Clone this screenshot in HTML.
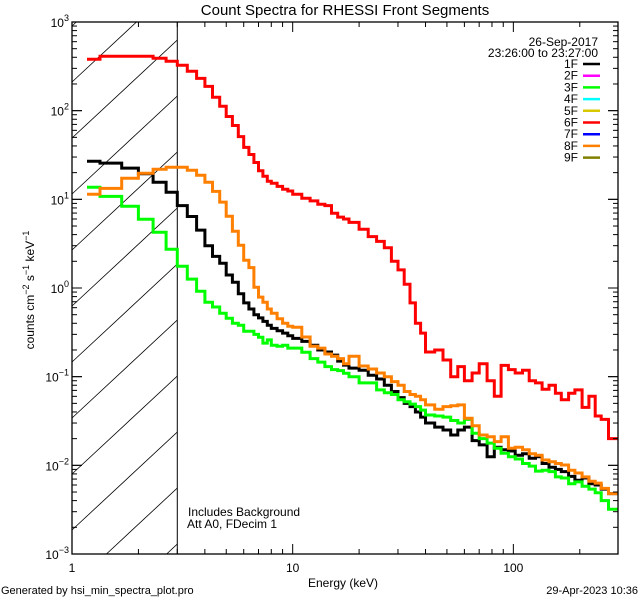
<!DOCTYPE html>
<html><head><meta charset="utf-8"><style>
html,body{margin:0;padding:0;background:#fff;width:640px;height:600px;overflow:hidden}
svg{display:block;overflow:hidden}
text{font-family:"Liberation Sans",sans-serif;fill:#000}
</style></head><body>
<svg id="chart" width="640" height="600" viewBox="0 0 640 600" xmlns="http://www.w3.org/2000/svg">
<rect width="640" height="600" fill="#fff"/>
<defs><clipPath id="clipHatch"><rect x="72" y="22" width="105.3" height="532"/></clipPath>
<clipPath id="clipPlot"><rect x="72" y="22" width="546" height="532"/></clipPath></defs>
<text x="345" y="15" font-size="15" text-anchor="middle">Count Spectra for RHESSI Front Segments</text>
<g clip-path="url(#clipHatch)"><g id="hatch"></g></g>
<g id="vline"></g>
<g clip-path="url(#clipPlot)"><g id="series"></g></g>
<g id="axes"></g>
<text x="188" y="516" font-size="12">Includes Background</text>
<text x="187" y="528" font-size="12">Att A0, FDecim 1</text>
<text x="343" y="587" font-size="12" text-anchor="middle">Energy (keV)</text>
<text transform="translate(34,290) rotate(-90)" font-size="12" text-anchor="middle">counts cm<tspan font-size="9" dy="-5">−2</tspan><tspan dy="5"> s</tspan><tspan font-size="9" dy="-5">−1</tspan><tspan dy="5"> keV</tspan><tspan font-size="9" dy="-5">−1</tspan></text>
<text x="1" y="594" font-size="11">Generated by hsi_min_spectra_plot.pro</text>
<text x="638" y="594" font-size="11" text-anchor="end">29-Apr-2023 10:36</text>
<text x="598" y="46" font-size="12" text-anchor="end">26-Sep-2017</text>
<text x="598" y="57" font-size="12" text-anchor="end">23:26:00 to 23:27:00</text>
<g id="legend"></g>
</svg>
<script>
const edges=[1.17,1.34,1.68,2.0,2.33,2.67,3.0,3.33,3.67,4.0,4.33,4.67,5.0,5.33,5.67,6.0,6.33,6.67,7.0,7.33,7.67,8.0,8.5,9.0,9.5,10,11,12,13,14,15,16,17,18,20,22,24,26,28,30,32,34,36,38,40,44,48,52,56,60,65,70,76,82,88,95,102,110,118,126,135,145,155,165,178,190,205,220,235,250,270,298];
const seg1F=[26.9,25.6,22.5,19.4,15.6,12.0,8.5,6.4,4.5,3.0,2.27,1.9,1.4,1.16,0.86,0.68,0.58,0.50,0.46,0.42,0.38,0.35,0.33,0.31,0.29,0.27,0.25,0.226,0.2,0.19,0.175,0.15,0.135,0.125,0.118,0.104,0.094,0.08,0.068,0.058,0.05,0.046,0.040,0.035,0.030,0.027,0.025,0.022,0.025,0.027,0.019,0.017,0.0125,0.016,0.015,0.0145,0.013,0.0135,0.012,0.0125,0.0105,0.0095,0.009,0.0085,0.0075,0.0068,0.0072,0.0062,0.006,0.0054,0.0048];
const seg3F=[13.7,10.8,8.36,5.97,4.26,2.74,1.76,1.26,0.92,0.69,0.61,0.52,0.457,0.40,0.38,0.326,0.326,0.30,0.279,0.239,0.26,0.226,0.22,0.226,0.21,0.21,0.189,0.16,0.146,0.13,0.12,0.117,0.109,0.10,0.085,0.085,0.071,0.066,0.063,0.055,0.052,0.049,0.046,0.042,0.037,0.036,0.035,0.032,0.030,0.033,0.023,0.02,0.0178,0.0156,0.0137,0.0125,0.0118,0.0105,0.0098,0.0086,0.0088,0.0085,0.0074,0.0072,0.0062,0.0065,0.0058,0.0054,0.0049,0.0040,0.0032];
const seg8F=[11.4,13.3,17.3,19.7,21.8,23.0,23.0,21.3,18.7,15.6,12.3,9.3,6.45,4.37,3.04,2.06,1.7,1.02,0.79,0.69,0.58,0.52,0.45,0.40,0.37,0.36,0.28,0.22,0.21,0.18,0.17,0.16,0.14,0.17,0.132,0.122,0.11,0.10,0.088,0.08,0.068,0.063,0.06,0.055,0.048,0.043,0.046,0.047,0.048,0.034,0.028,0.022,0.021,0.0185,0.021,0.0156,0.016,0.015,0.0135,0.013,0.0115,0.011,0.0105,0.0101,0.0088,0.0082,0.0074,0.0066,0.0063,0.0055,0.0048];
const seg6F=[380,410,410,410,390,360,325,278,231,188,142,112,86,68,51,38.5,32,26,21,18.2,16,15.2,14,13,12.4,11.4,10.3,9.6,8.8,8.5,6.95,6.3,6.0,5.5,4.6,3.8,3.35,2.85,2.0,1.6,1.1,0.68,0.40,0.31,0.19,0.20,0.154,0.10,0.13,0.09,0.11,0.14,0.09,0.06,0.134,0.12,0.11,0.118,0.09,0.085,0.072,0.08,0.065,0.055,0.065,0.071,0.045,0.06,0.036,0.033,0.02];
const legendLabels=["1F","2F","3F","4F","5F","6F","7F","8F","9F"];
const legendColors=["#000000","#ff00ff","#00ff00","#00ffff","#d8c800","#ff0000","#0000ff","#ff8000","#808000"];
const xTickVals=[1,10,100];
const xTickLabels=["1","10","100"];
const yTickExps=[3,2,1,0,-1,-2,-3];

const NS="http://www.w3.org/2000/svg";
const L=72,R=618,T=22,B=554;
const xMin=1,xMax=298,yMin=1e-3,yMax=1e3;
function xs(e){return L+(R-L)*(Math.log10(e)-Math.log10(xMin))/(Math.log10(xMax)-Math.log10(xMin));}
function ys(v){return B-(B-T)*(Math.log10(v)-Math.log10(yMin))/(Math.log10(yMax)-Math.log10(yMin));}
function mk(tag,attrs,parent){const el=document.createElementNS(NS,tag);for(const k in attrs)el.setAttribute(k,attrs[k]);parent.appendChild(el);return el;}

const hatch=document.getElementById('hatch');
const hx0=72,hx1=xs(3),slope=0.93;
for(let b=-86;b<800;b+=56){
  let xa=hx0,ya=b,xb=hx1,yb=b-(hx1-hx0)*slope;
  if(ya>B){xa=hx0+(ya-B)/slope;ya=B;}
  if(yb<T){xb=hx0+(b-T)/slope;yb=T;}
  if(xa>=xb)continue;
  const ln=mk('line',{x1:xa,y1:ya,x2:xb,y2:yb,stroke:'#000','stroke-width':0.8},hatch);
  
  
}
const vl=mk('line',{x1:xs(3),y1:T,x2:xs(3),y2:B,stroke:'#000','stroke-width':1},document.getElementById('vline'));



const sg=document.getElementById('series');
function drawSeries(vals,color,name){
  let d='';
  for(let i=0;i<vals.length;i++){
    const x0=xs(edges[i]),x1=xs(edges[i+1]),y=ys(vals[i]);
    d+=(i===0?'M':'L')+x0.toFixed(1)+','+y.toFixed(1)+'L'+x1.toFixed(1)+','+y.toFixed(1);
  }
  const p=mk('path',{d:d,fill:'none',stroke:color,'stroke-width':3,'stroke-linejoin':'miter'},sg);
  
  
}
drawSeries(seg1F,'#000000','series-1f');
drawSeries(seg3F,'#00ff00','series-3f');
drawSeries(seg8F,'#ff8000','series-8f');
drawSeries(seg6F,'#ff0000','series-6f');

const ax=document.getElementById('axes');
const frame=mk('rect',{x:L,y:T,width:R-L,height:B-T,fill:'none',stroke:'#000','stroke-width':1.3},ax);


for(let dec=1;dec<=100;dec*=10){
  for(let m=1;m<10;m++){
    const v=dec*m; if(v>xMax)break;
    const x=xs(v),len=(m===1)?10:5;
    const t1=mk('line',{x1:x,y1:B,x2:x,y2:B-len,stroke:'#000'},ax);
    
    
    const t2=mk('line',{x1:x,y1:T,x2:x,y2:T+len,stroke:'#000'},ax);
    
    
  }
}
xTickVals.forEach((v,i)=>{
  const t=mk('text',{x:xs(v),y:B+18,'font-size':12,'text-anchor':'middle'},ax);
  t.textContent=xTickLabels[i];
  
  
});
for(let e=-3;e<3;e++){
  for(let m=1;m<10;m++){
    const v=Math.pow(10,e)*m; const y=ys(v),len=(m===1)?10:5;
    const t1=mk('line',{x1:L,y1:y,x2:L+len,y2:y,stroke:'#000'},ax);
    
    
    const t2=mk('line',{x1:R,y1:y,x2:R-len,y2:y,stroke:'#000'},ax);
    
    
  }
}
yTickExps.forEach(e=>{
  const y=ys(Math.pow(10,e));
  const tk=mk('line',{x1:L,y1:y,x2:L+10,y2:y,stroke:'#000'},ax);
  
  
  const tk2=mk('line',{x1:R,y1:y,x2:R-10,y2:y,stroke:'#000'},ax);
  
  
  const t=mk('text',{x:L-3,y:y+5,'font-size':12,'text-anchor':'end'},ax);
  t.innerHTML='10<tspan font-size="9" dy="-6">'+(e<0?'−'+(-e):e)+'</tspan>';
  
  
});

const lg=document.getElementById('legend');
legendLabels.forEach((lab,i)=>{
  const y=68+i*11.7;
  const t=mk('text',{x:578,y:y,'font-size':12,'text-anchor':'end'},lg);
  t.textContent=lab;
  
  
  const l=mk('line',{x1:583,y1:y-4,x2:600,y2:y-4,stroke:legendColors[i],'stroke-width':2.5},lg);
  
  
});
</script>
</body></html>
